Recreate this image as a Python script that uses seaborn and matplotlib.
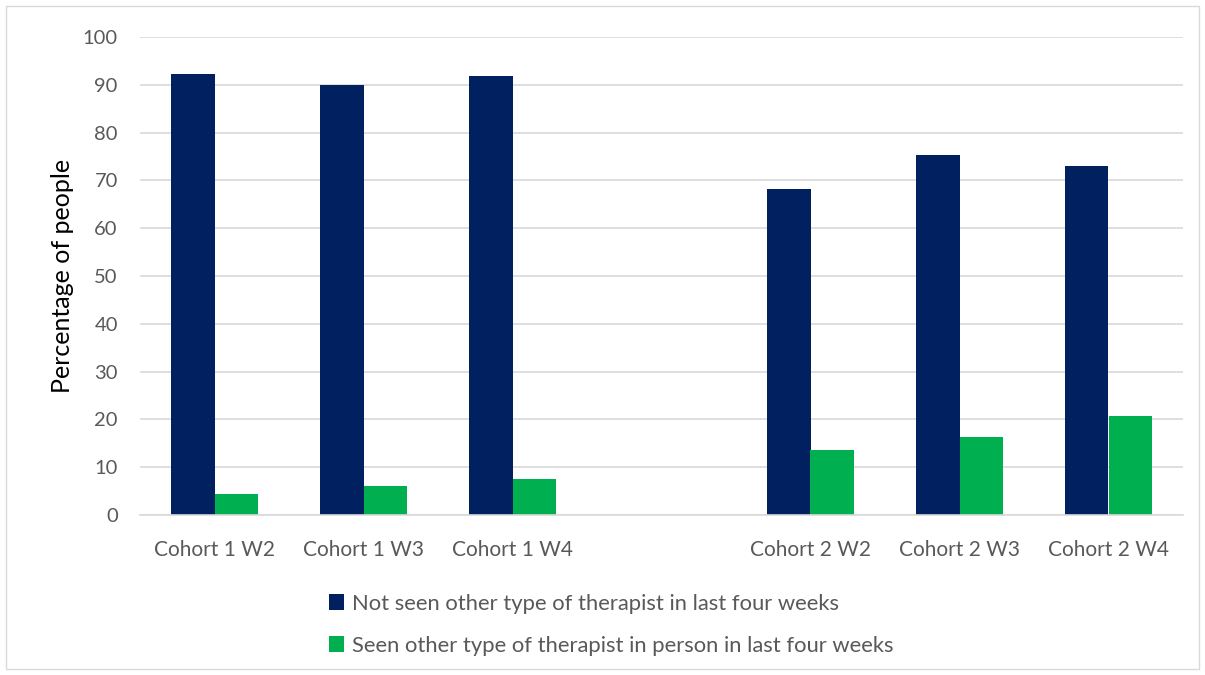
import pandas as pd
import numpy as np
import matplotlib
matplotlib.use("Agg")
import matplotlib.pyplot as plt
import seaborn as sns
from matplotlib.patches import Rectangle

# style
sns.set_style("white")
plt.rcParams["font.family"] = ["Lato", "DejaVu Sans"]

# data
categories = ["Cohort 1 W2", "Cohort 1 W3", "Cohort 1 W4", " ",
              "Cohort 2 W2", "Cohort 2 W3", "Cohort 2 W4"]
not_seen = [92.2, 90.0, 91.9, np.nan, 68.1, 75.4, 73.0]
seen_in_person = [4.3, 6.1, 7.5, np.nan, 13.7, 16.3, 20.8]
series_names = ["Not seen other type of therapist in last four weeks",
                "Seen other type of therapist in person in last four weeks"]
colors = ["#002060", "#00B050"]

df = pd.DataFrame({
    "category": categories * 2,
    "value": not_seen + seen_in_person,
    "series": [series_names[0]] * len(categories) + [series_names[1]] * len(categories),
})

fig = plt.figure(figsize=(12.05, 6.75), dpi=100)
ax = fig.add_axes([140 / 1205, 1 - 515 / 675, (1183 - 140) / 1205, (515 - 37) / 675])

sns.barplot(
    data=df,
    x="category",
    y="value",
    hue="series",
    order=categories,
    hue_order=series_names,
    palette=colors,
    width=0.58,
    errorbar=None,
    saturation=1,
    linewidth=0,
    ax=ax,
)

ax.set_ylim(0, 100)
ax.set_yticks(range(0, 101, 10))
ax.set_xlim(-0.5, len(categories) - 0.5)
ax.yaxis.grid(True, color="#d9d9d9", linewidth=1.2)
ax.set_axisbelow(True)
for side in ["top", "right", "left"]:
    ax.spines[side].set_visible(False)
ax.spines["bottom"].set_color("#d9d9d9")
ax.spines["bottom"].set_linewidth(1.2)
ax.tick_params(axis="y", length=0, labelsize=14.5, colors="#595959", pad=16)
ax.tick_params(axis="x", length=0, labelsize=15, colors="#595959", pad=18)
ax.set_xlabel("")
ax.set_ylabel("Percentage of people", fontsize=18, color="black", labelpad=6)

# legend below the plot
handles, labels = ax.get_legend_handles_labels()
ax.legend(
    handles, labels,
    loc="upper left",
    bbox_to_anchor=(309 / 1205, 1 - 574 / 675),
    bbox_transform=fig.transFigure,
    frameon=False,
    fontsize=15.8,
    labelcolor="#595959",
    handlelength=0.7,
    handleheight=0.7,
    handletextpad=0.35,
    labelspacing=1.0,
)

# thin frame round the whole chart
fig.patches.append(Rectangle((6 / 1205, 6 / 675), 1 - 12 / 1205, 1 - 12 / 675,
                             transform=fig.transFigure, fill=False,
                             edgecolor="#d9d9d9", linewidth=1))

fig.savefig("out.png", dpi=100)
